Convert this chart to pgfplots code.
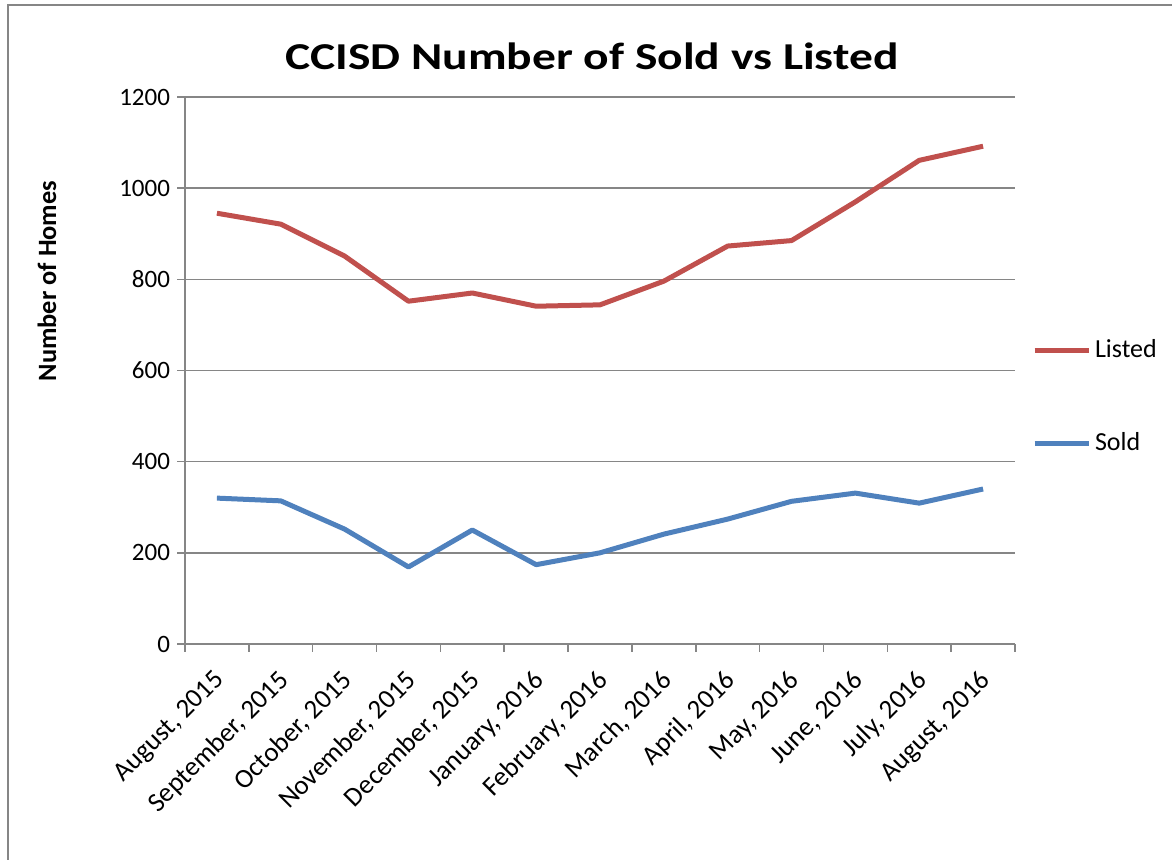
\documentclass[border=0pt]{standalone}
\usepackage{fontspec}
\setmainfont{Carlito}
\usepackage{pgfplots}
\pgfplotsset{compat=1.18}
\definecolor{listed}{RGB}{192,80,77}
\definecolor{sold}{RGB}{79,129,189}
\definecolor{axgrey}{RGB}{134,134,134}
\begin{document}
\begin{tikzpicture}
\useasboundingbox (0,0) rectangle (586pt,430pt);
\draw[axgrey, line width=0.8pt] (4pt,-20pt) -- (4pt,427.5pt) -- (620pt,427.5pt);
\node[anchor=base, font=\fontsize{19}{22}\selectfont\bfseries] at (296pt,395pt) {\scalebox{1.25}[1]{CCISD Number of Sold vs Listed}};
\node[rotate=90, font=\fontsize{13.2}{15}\selectfont\bfseries] at (23.5pt,289.5pt) {Number of Homes};
\begin{axis}[
  at={(92.5pt,108pt)}, anchor=south west,
  scale only axis, width=415pt, height=273.5pt,
  xmin=-0.5, xmax=12.5, ymin=0, ymax=1200,
  axis lines=left, axis line style={-, axgrey, line width=0.8pt},
  xtick={0,...,12},
  xticklabels={{August, 2015},{September, 2015},{October, 2015},{November, 2015},{December, 2015},{January, 2016},{February, 2016},{March, 2016},{April, 2016},{May, 2016},{June, 2016},{July, 2016},{August, 2016}},
  major x tick style={draw=none},
  minor xtick={-0.5,0.5,...,12.5},
  minor x tick style={axgrey, line width=0.8pt},
  ytick={0,200,...,1200},
  y tick style={axgrey, line width=0.8pt},
  tick align=outside,
  major tick length=4pt, minor tick length=4pt,
  ymajorgrids, grid style={axgrey, line width=0.8pt},
  /pgf/number format/assume math mode=true,
  /pgf/number format/1000 sep={},
  yticklabel style={font=\fontsize{12.5}{14}\selectfont},
  xticklabel style={font=\fontsize{13.5}{15}\selectfont, rotate=45, anchor=north east, inner sep=0pt, xshift=-7.15pt, yshift=-4.1pt},
  legend style={at={(1.02,0.564)}, anchor=north west, draw=none, fill=none,
    font=\fontsize{13}{15}\selectfont, row sep=32pt, inner sep=0pt},
  legend cell align=left,
  legend image code/.code={\draw[#1] (0pt,0pt) -- (27pt,0pt);},
]
\addplot[listed, line width=2.5pt, line join=round] coordinates {
(0,945) (1,921) (2,851) (3,752) (4,770) (5,741) (6,744) (7,796) (8,873) (9,885) (10,970) (11,1061) (12,1092)};
\addlegendentry{Listed}
\addplot[sold, line width=2.5pt, line join=round] coordinates {
(0,320) (1,314) (2,252) (3,169) (4,250) (5,174) (6,200) (7,241) (8,274) (9,313) (10,331) (11,309) (12,340)};
\addlegendentry{Sold}
\end{axis}
\end{tikzpicture}
\end{document}
